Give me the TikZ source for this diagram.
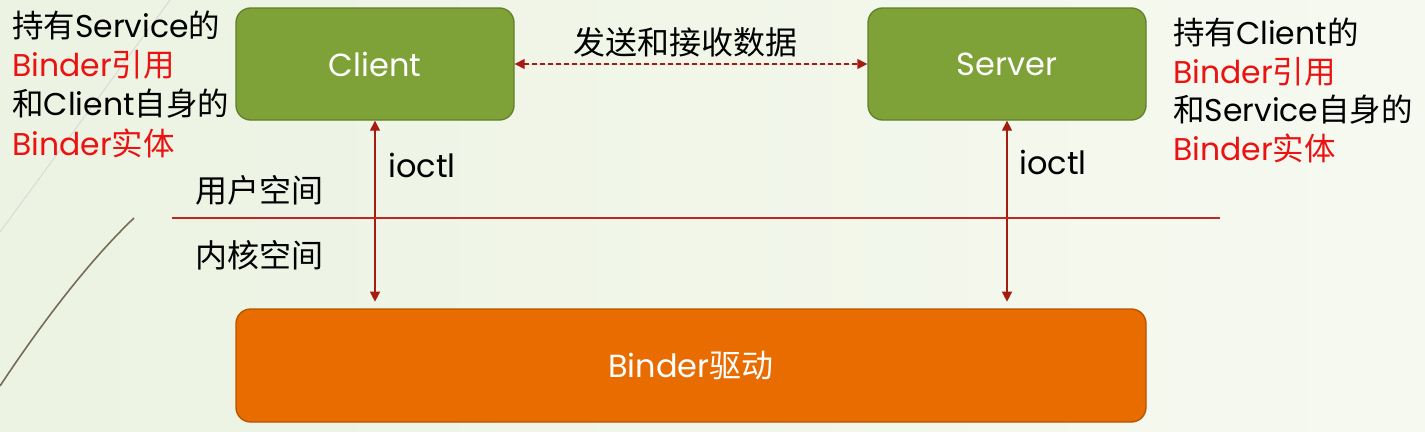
\documentclass[tikz,border=0pt]{standalone}
\usepackage{fontspec}
\setmainfont{Poppins}
\newfontfamily\cjk{Noto Sans CJK SC}
\usetikzlibrary{arrows.meta}
\definecolor{bgL}{RGB}{236,243,226}
\definecolor{bgM}{RGB}{251,252,249}
\definecolor{bgR}{RGB}{246,249,240}
\definecolor{boxgreen}{RGB}{127,162,56}
\definecolor{boxgreenD}{RGB}{98,128,40}
\definecolor{boxorange}{RGB}{232,108,0}
\definecolor{boxorangeD}{RGB}{184,84,0}
\definecolor{arrowred}{RGB}{165,28,16}
\definecolor{divred}{RGB}{190,40,30}
\definecolor{txtred}{RGB}{235,18,18}
\definecolor{decocurve}{RGB}{118,108,88}
\newcommand\myzh[1]{{\cjk #1}}
\begin{document}
\begin{tikzpicture}[x=0.75pt,y=-0.75pt,
  every node/.style={font=\fontsize{24}{29}\selectfont, inner sep=0pt},
  box/.style={rounded corners=11pt, draw, line width=1pt, text=white},
  greenbox/.style={box, fill=boxgreen, draw=boxgreenD, minimum width=208.5pt, minimum height=84pt},
  orangebox/.style={box, fill=boxorange, draw=boxorangeD, minimum width=682.5pt, minimum height=84.75pt},
  link/.style={draw=arrowred, fill=arrowred, line width=1pt, {Triangle[width=7.5pt,length=7.5pt]}-{Triangle[width=7.5pt,length=7.5pt]}},
  side/.style={anchor=west, font=\fontsize{23.6}{28}\selectfont},
  hl/.style={text=txtred},
  label/.style={anchor=west},
]
\useasboundingbox (0,0) rectangle (1425,432);
\shade[left color=bgL, middle color=bgM, right color=bgR] (0,0) rectangle (1425,432);
% decorative lines
\draw[black!16, line width=0.6pt] (0,232) -- (170,0);
\draw[decocurve, line width=1.2pt] (0,386) .. controls (45,318) and (92,258) .. (134,218);

% boxes
\node[greenbox] (client) at (375,64) {Client};
\node[greenbox] (server) at (1007,64) {Server};
\node[orangebox] (binder) at (691,365.5) {Binder\myzh{驱动}};

% data exchange
\node (send) at (685,42) {\myzh{发送和接收数据}};
\draw[link, dash pattern=on 3.5pt off 2.5pt] (client.east) -- (server.west);

% ioctl arrows
\draw[link, shorten >=5pt] (client.south) -- (client.south |- binder.north);
\draw[link, shorten >=5pt] (server.south) -- (server.south |- binder.north);
\node[label] (io1) at (388,165) {ioctl};
\node[label] (io2) at (1019,162) {ioctl};

% user/kernel divider
\coordinate (dl) at (172,218);
\coordinate (dr) at (1220,218);
\draw[divred, line width=0.9pt] (dl) -- (dr);
\node[label] (user) at (195,190) {\myzh{用户空间}};
\node[label] (kernel) at (195,255) {\myzh{内核空间}};

% left side text
\node[side] (l1) at (12,25) {\myzh{持有}Service\myzh{的}};
\node[side, hl] (l2) at (12,65) {Binder\myzh{引用}};
\node[side] (l3) at (12,104) {\myzh{和}Client\myzh{自身的}};
\node[side, hl] (l4) at (12,143) {Binder\myzh{实体}};

% right side text
\node[side] (r1) at (1173,32) {\myzh{持有}Client\myzh{的}};
\node[side, hl] (r2) at (1173,72) {Binder\myzh{引用}};
\node[side] (r3) at (1173,110) {\myzh{和}Service\myzh{自身的}};
\node[side, hl] (r4) at (1173,148) {Binder\myzh{实体}};
\end{tikzpicture}
\end{document}
